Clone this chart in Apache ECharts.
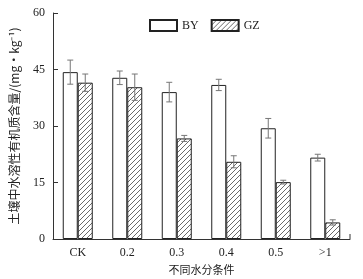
<!DOCTYPE html>
<html>
<head>
<meta charset="utf-8">
<script src="https://cdn.jsdelivr.net/npm/echarts@6/dist/echarts.min.js"></script>
<style>
  html, body { margin: 0; padding: 0; background: #fff; }
  #main { width: 363px; height: 279px; }
</style>
</head>
<body>
<div id="main"></div>
<script>
var categories = ['CK', '0.2', '0.3', '0.4', '0.5', '>1'];
var byValues = [44.3, 42.8, 39.0, 40.9, 29.4, 21.6];
var byErrors = [3.2, 1.8, 2.6, 1.5, 2.6, 0.9];
var gzValues = [41.5, 40.3, 26.7, 20.5, 15.1, 4.4];
var gzErrors = [2.3, 3.5, 0.8, 1.6, 0.5, 0.7];
var yTicks = [0, 15, 30, 45, 60];

var serif = '"Liberation Serif", "Times New Roman", serif';
var cjk = '"Noto Sans CJK SC", sans-serif';

// hatch pattern for GZ bars
function makeHatch() {
  var c = document.createElement('canvas');
  c.width = 5;
  c.height = 5;
  var ctx = c.getContext('2d');
  ctx.fillStyle = '#fff';
  ctx.fillRect(0, 0, 5, 5);
  ctx.strokeStyle = '#444';
  ctx.lineWidth = 0.8;
  ctx.beginPath();
  ctx.moveTo(0, 5); ctx.lineTo(5, 0);
  ctx.moveTo(-1, 1); ctx.lineTo(1, -1);
  ctx.moveTo(4, 6); ctx.lineTo(6, 4);
  ctx.stroke();
  return c;
}
var hatch = { image: makeHatch(), repeat: 'repeat' };

function errorSeries(values, errors, offset) {
  var data = values.map(function (v, i) { return [i, v - errors[i], v + errors[i]]; });
  return {
    type: 'custom',
    silent: true,
    z: 5,
    data: data,
    renderItem: function (params, api) {
      var lo = api.coord([api.value(0), api.value(1)]);
      var hi = api.coord([api.value(0), api.value(2)]);
      var x = lo[0] + offset;
      var w = 3;
      var st = { stroke: '#777', lineWidth: 1 };
      return {
        type: 'group',
        children: [
          { type: 'line', shape: { x1: x, y1: lo[1], x2: x, y2: hi[1] }, style: st },
          { type: 'line', shape: { x1: x - w, y1: lo[1], x2: x + w, y2: lo[1] }, style: st },
          { type: 'line', shape: { x1: x - w, y1: hi[1], x2: x + w, y2: hi[1] }, style: st }
        ]
      };
    }
  };
}

var myChart = echarts.init(document.getElementById('main'));
var option = {
  animation: false,
  backgroundColor: '#fff',
  grid: { left: 53, right: 13, top: 13, bottom: 40, outerBoundsMode: 'none' },
  legend: {
    top: 14,
    left: 144,
    itemWidth: 27,
    itemHeight: 11,
    itemGap: 12,
    icon: 'rect',
    textStyle: { fontFamily: serif, fontSize: 12, color: '#222' },
    data: ['BY', 'GZ']
  },
  xAxis: {
    type: 'category',
    data: categories,
    name: '不同水分条件',
    nameLocation: 'middle',
    nameGap: 23,
    nameTextStyle: { fontFamily: cjk, fontSize: 11, color: '#222' },
    axisLine: { lineStyle: { color: '#333' } },
    axisTick: { show: false },
    axisLabel: { fontFamily: serif, fontSize: 12, color: '#222', margin: 8 }
  },
  yAxis: {
    type: 'value',
    min: yTicks[0],
    max: yTicks[yTicks.length - 1],
    interval: 15,
    name: '土壤中水溶性有机质含量/(mg·kg⁻¹)',
    nameLocation: 'middle',
    nameRotate: 90,
    nameGap: 33,
    nameTextStyle: { fontFamily: cjk, fontSize: 12, color: '#222' },
    axisLine: { show: true, lineStyle: { color: '#333' } },
    axisTick: { show: true, inside: true, length: 5, lineStyle: { color: '#333' } },
    splitLine: { show: false },
    axisLabel: { fontFamily: serif, fontSize: 12, color: '#222', margin: 8 }
  },
  series: [
    {
      name: 'BY',
      type: 'bar',
      barWidth: 15,
      barGap: '0%',
      data: byValues,
      itemStyle: { color: '#fff', borderColor: '#222', borderWidth: 1 }
    },
    {
      name: 'GZ',
      type: 'bar',
      barWidth: 15,
      barGap: '0%',
      data: gzValues,
      itemStyle: { color: hatch, borderColor: '#222', borderWidth: 1 }
    },
    errorSeries(byValues, byErrors, -7.5),
    errorSeries(gzValues, gzErrors, 7.5)
  ]
};
option && myChart.setOption(option);

// small end tick at the right of the x axis
var origin = myChart.convertToPixel({ gridIndex: 0 }, [0, 0]);
var rightX = myChart.getWidth() - option.grid.right;
myChart.setOption({
  graphic: [{
    type: 'line',
    shape: { x1: rightX, y1: origin[1], x2: rightX, y2: origin[1] - 5 },
    style: { stroke: '#333', lineWidth: 1 }
  }]
});
</script>
</body>
</html>
